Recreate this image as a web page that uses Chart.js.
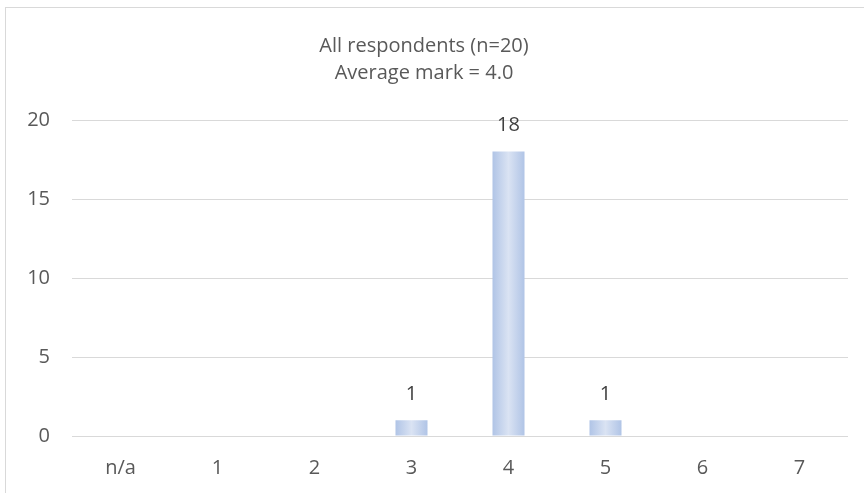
<!DOCTYPE html>
<html>
<head>
<meta charset="utf-8">
<script src="https://cdn.jsdelivr.net/npm/chart.js@4/dist/chart.umd.min.js"></script>
<style>
  html, body { margin: 0; padding: 0; background: #fff; overflow: hidden; }
  #wrap { position: relative; width: 864px; height: 493px; }
  #frame { position: absolute; left: 5px; top: 7px; width: 900px; height: 600px; border: 1px solid #d9d9d9; }
  #chart { position: absolute; left: 0; top: 0; }
</style>
</head>
<body>
<div id="wrap">
  <div id="frame"></div>
  <canvas id="chart" width="864" height="493"></canvas>
</div>
<script>
  const labels = ['n/a', '1', '2', '3', '4', '5', '6', '7'];
  const counts = [0, 0, 0, 1, 18, 1, 0, 0];
  const titleLines = ['All respondents (n=20)', 'Average mark = 4.0'];
  const yTicks = [0, 5, 10, 15, 20];

  const textColor = '#595959';
  const fontFamily = '"Open Sans", sans-serif';

  // horizontal gradient across each bar, like the Excel fill
  function barFill(ctx) {
    const chart = ctx.chart;
    const x = chart.scales.x;
    if (!x || ctx.dataIndex === undefined) return '#c5d4ee';
    const step = x.getPixelForTick(1) - x.getPixelForTick(0);
    const w = step * 0.33;
    const cx = x.getPixelForValue(ctx.dataIndex);
    if (!isFinite(cx) || !isFinite(w) || w <= 0) return '#c5d4ee';
    const g = chart.ctx.createLinearGradient(cx - w / 2, 0, cx + w / 2, 0);
    g.addColorStop(0, '#b0c4e6');
    g.addColorStop(0.5, '#dae3f3');
    g.addColorStop(1, '#b0c4e6');
    return g;
  }

  // value above each non-zero bar
  const valueLabels = {
    id: 'valueLabels',
    afterDatasetsDraw(chart) {
      const c = chart.ctx;
      const meta = chart.getDatasetMeta(0);
      c.save();
      c.fillStyle = '#404040';
      c.font = '20px ' + fontFamily;
      c.textAlign = 'center';
      c.textBaseline = 'middle';
      meta.data.forEach((bar, i) => {
        if (counts[i] > 0) c.fillText(String(counts[i]), bar.x, bar.y - 26);
      });
      c.restore();
    }
  };

  const data = {
    labels: labels,
    datasets: [{
      data: counts,
      backgroundColor: barFill,
      borderWidth: 0,
      categoryPercentage: 1,
      barPercentage: 0.33
    }]
  };

  const config = {
    type: 'bar',
    data: data,
    options: {
      responsive: false,
      animation: false,
      layout: { padding: { left: 0, right: 16, top: 0, bottom: 0 } },
      plugins: {
        legend: { display: false },
        tooltip: { enabled: false },
        title: {
          display: true,
          text: titleLines,
          color: textColor,
          font: { family: fontFamily, size: 20, weight: 'normal', lineHeight: 1.35 },
          padding: { top: 33, bottom: 33 }
        }
      },
      scales: {
        x: {
          grid: { display: false },
          border: { display: false },
          ticks: { color: textColor, font: { family: fontFamily, size: 20 }, padding: 12 },
          afterFit(scale) { scale.height = 57; }
        },
        y: {
          min: 0,
          max: 20,
          afterBuildTicks(scale) { scale.ticks = yTicks.map(v => ({ value: v })); },
          grid: { color: '#d9d9d9', lineWidth: 1, drawTicks: false },
          border: { display: false },
          ticks: { color: textColor, font: { family: fontFamily, size: 20 }, padding: 22 },
          afterFit(scale) { scale.width = 72; }
        }
      }
    },
    plugins: [valueLabels]
  };

  var myChart = new Chart(document.getElementById('chart'), config);
</script>
</body>
</html>
